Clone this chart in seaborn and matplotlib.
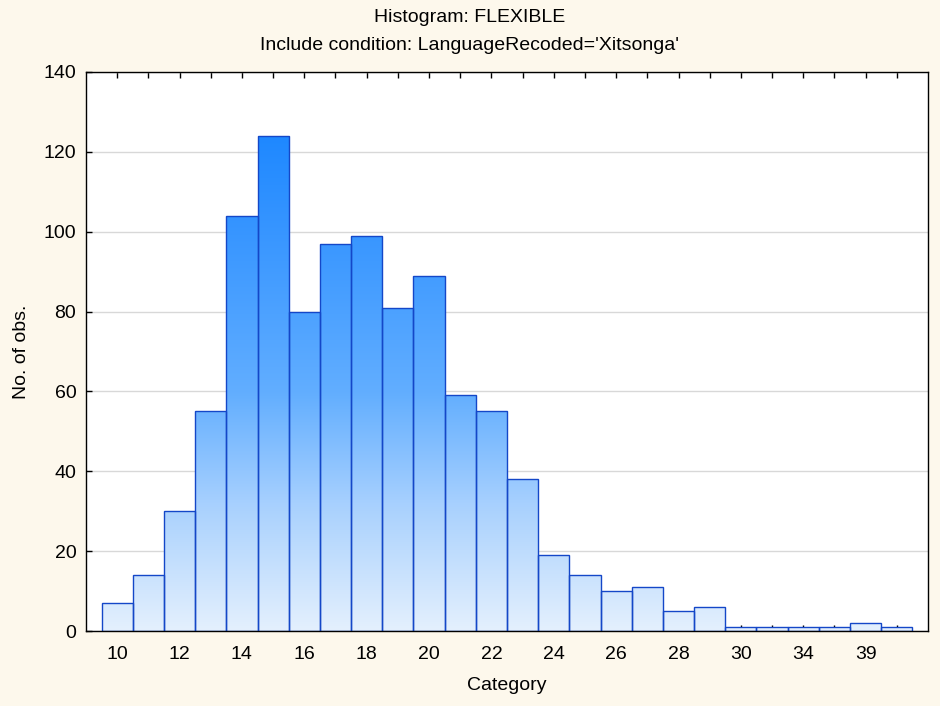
import pandas as pd
import seaborn as sns
import matplotlib.pyplot as plt
from matplotlib.colors import LinearSegmentedColormap
import numpy as np

categories = ['10', '11', '12', '13', '14', '15', '16', '17', '18', '19', '20', '21', '22',
              '23', '24', '25', '26', '27', '28', '29', '30', '32', '34', '36', '39', '40']
counts = [7, 14, 30, 55, 104, 124, 80, 97, 99, 81, 89, 59, 55,
          38, 19, 14, 10, 11, 5, 6, 1, 1, 1, 1, 2, 1]
shown_labels = ['10', '12', '14', '16', '18', '20', '22', '24', '26', '28', '30', '34', '39']

df = pd.DataFrame({'Category': categories, 'count': counts})

sns.set_style('white')
plt.rcParams['font.family'] = ['Liberation Sans', 'DejaVu Sans']
plt.rcParams['text.color'] = 'black'

fig = plt.figure(figsize=(9.4, 7.06), dpi=100, facecolor='#fdf8ec')
ax = fig.add_axes([86 / 940, 1 - 631 / 706, 842 / 940, 559 / 706])
ax.set_facecolor('white')

sns.barplot(data=df, x='Category', y='count', order=categories, width=1,
            color='#4a9cff', edgecolor='#1447c8', linewidth=1, ax=ax, zorder=2)

# gradient fill (light at the bottom, saturated blue towards the top)
cmap = LinearSegmentedColormap.from_list('grad', [
    (0.0, '#e4f0fd'), (0.25, '#a9d1fe'), (0.48, '#62aeff'),
    (0.8, '#3896ff'), (1.0, '#1e88ff')])
grad = np.linspace(0, 1, 256).reshape(-1, 1)
for p in ax.patches:
    p.set_facecolor('none')
    img = ax.imshow(grad, cmap=cmap, aspect='auto', origin='lower',
                    extent=[-1, 26, 0, 124], zorder=1.5, interpolation='bicubic')
    img.set_clip_path(p)

ax.set_xlim(-1, 26)
ax.set_ylim(0, 140)
ax.set_yticks(range(0, 141, 20))
ax.set_xticks(range(len(categories)))
ax.set_xticklabels([c if c in shown_labels and i % 2 == 0 else '' for i, c in enumerate(categories)])
ax.yaxis.grid(True, color='#d8d8d8', lw=1, zorder=0)
ax.set_axisbelow(True)

for s in ax.spines.values():
    s.set_color('black')
    s.set_linewidth(1)
ax.tick_params(axis='x', direction='in', top=True, bottom=True, length=4, width=1,
               labelsize=14, pad=11, colors='black')
ax.tick_params(axis='y', direction='in', left=True, right=False, length=4, width=1,
               labelsize=14, pad=7, colors='black')

ax.set_xlabel('Category', fontsize=14, labelpad=10, color='black')
ax.set_ylabel('No. of obs.', fontsize=14, labelpad=10, color='black')

fig.text(0.5, 1 - 18 / 706, 'Histogram: FLEXIBLE', ha='center', va='center',
         fontsize=14, color='black')
fig.text(0.5, 1 - 46 / 706, "Include condition: LanguageRecoded='Xitsonga'",
         ha='center', va='center', fontsize=14, color='black')

fig.savefig('out.png', dpi=100, facecolor=fig.get_facecolor())
